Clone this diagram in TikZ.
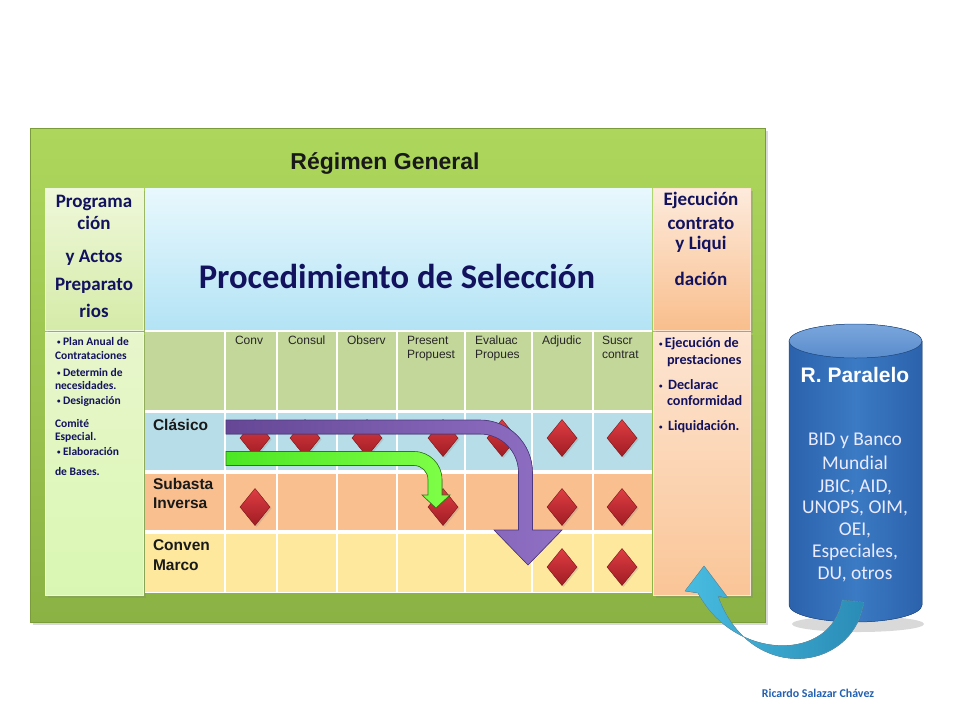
\documentclass[tikz,border=0pt]{standalone}
\usepackage{fontspec}
\usetikzlibrary{shapes.geometric,shadows}
\newfontfamily\arialf{Liberation Sans}
\newfontfamily\calib{Carlito}
\definecolor{grnT}{HTML}{ADD75C}
\definecolor{grnBot}{HTML}{8AB244}
\definecolor{grnD}{HTML}{7A9D3A}
\definecolor{lgT}{HTML}{EFF8DA}
\definecolor{lgB}{HTML}{D5EBA8}
\definecolor{lbT}{HTML}{E8F6CC}
\definecolor{lbB}{HTML}{D9F7B2}
\definecolor{blT}{HTML}{E8F8FD}
\definecolor{blB}{HTML}{B3E3F5}
\definecolor{pcT}{HTML}{FDEBDD}
\definecolor{pcB}{HTML}{F9BE8C}
\definecolor{pbT}{HTML}{FDE5D2}
\definecolor{pbB}{HTML}{FAC597}
\definecolor{hdrC}{HTML}{C4D79B}
\definecolor{clasC}{HTML}{B7DEE8}
\definecolor{subC}{HTML}{F9BF8F}
\definecolor{convC}{HTML}{FDE89E}
\definecolor{navy}{HTML}{12125E}
\definecolor{dT}{HTML}{DE3D43}
\definecolor{dB}{HTML}{A01C23}
\definecolor{dD}{HTML}{7A1418}
\definecolor{pL}{HTML}{654796}
\definecolor{pR}{HTML}{9070C4}
\definecolor{pD}{HTML}{4E3880}
\definecolor{gL}{HTML}{4CE624}
\definecolor{gR}{HTML}{80FF48}
\definecolor{gD}{HTML}{2D7A19}
\definecolor{cL}{HTML}{48BCE0}
\definecolor{cR}{HTML}{2A8CB6}
\definecolor{cD}{HTML}{1F6F93}
\definecolor{cyB}{HTML}{2C62AC}
\definecolor{cyM}{HTML}{3B7AC4}
\definecolor{cyT}{HTML}{7AA6DC}
\definecolor{cyTB}{HTML}{5A8CCC}
\definecolor{cyD}{HTML}{24528F}
\definecolor{credit}{HTML}{2260B0}
\begin{document}
\begin{tikzpicture}[x=1pt,y=-1pt,
  every node/.style={inner sep=0pt, outer sep=0pt},
  panel/.style={anchor=north west, inner sep=0pt},
  shad/.style={drop shadow={opacity=0.3, shadow xshift=3pt, shadow yshift=-3pt}},
  headtxt/.style={anchor=mid, text=navy, font=\calib\bfseries\fontsize{19}{22}\selectfont},
  llist/.style={anchor=mid west, text=navy, font=\calib\bfseries\fontsize{11.5}{13}\selectfont},
  rlist/.style={anchor=mid west, text=navy, font=\calib\bfseries\fontsize{14.2}{16}\selectfont},
  colhd/.style={anchor=mid west, text=black!85, font=\arialf\fontsize{12}{14}\selectfont},
  rowlbl/.style={anchor=mid west, text=black!90, font=\arialf\bfseries\fontsize{15.5}{18}\selectfont},
  dia/.style={diamond, minimum width=30pt, minimum height=37pt, inner sep=0pt,
    top color=dT, bottom color=dB, draw=dD, line width=0.4pt,
    drop shadow={opacity=0.25, shadow xshift=1.5pt, shadow yshift=-1.5pt}},
  cyltxt/.style={anchor=mid, text=white!92!blue, font=\calib\fontsize{19.5}{22}\selectfont}
]
\newcommand{\bul}{{\scriptsize\raisebox{0.1ex}{•}}}
\useasboundingbox (0,0) rectangle (960,720);
\fill[white] (0,0) rectangle (960,720);

% outer green frame
\node[panel, shad, minimum width=735pt, minimum height=494pt, top color=grnT, bottom color=grnBot, draw=grnD, line width=0.6pt] (regimen) at (30,128) {};
\node[anchor=base, text=black!90, font=\arialf\bfseries\fontsize{23}{26}\selectfont] (title) at (385,169) {Régimen General};

% left column
\node[panel, shad, minimum width=98pt, minimum height=142pt, top color=lgT, bottom color=lgB, draw=white!60!lgB, line width=0.5pt] (prog) at (45,188) {};
\node[panel, shad, minimum width=98pt, minimum height=263pt, top color=lbT, bottom color=lbB, draw=white!60!lbB, line width=0.5pt] (progb) at (45,332) {};

% center header
\node[panel, minimum width=507pt, minimum height=142pt, top color=blT, bottom color=blB] (proc) at (145,188) {};
\node[anchor=base, text=navy, font=\calib\bfseries\fontsize{34.6}{38}\selectfont] (proctitle) at (397,288) {Procedimiento de Selección};

% right column
\node[panel, shad, minimum width=97pt, minimum height=142pt, top color=pcT, bottom color=pcB, draw=white!60!pcB, line width=0.5pt] (ejec) at (653,188) {};
\node[panel, shad, minimum width=97pt, minimum height=263pt, top color=pbT, bottom color=pbB, draw=white!60!pbB, line width=0.5pt] (ejecb) at (653,332) {};

% table
\fill[white] (145,330) rectangle (652,593);
\node[panel, minimum width=507pt, minimum height=78pt, fill=hdrC] (hdr) at (145,332) {};
\node[panel, minimum width=507pt, minimum height=57pt, fill=clasC] (rclas) at (145,413) {};
\node[panel, minimum width=507pt, minimum height=56pt, fill=subC] (rsub) at (145,474) {};
\node[panel, minimum width=507pt, minimum height=58pt, fill=convC] (rconv) at (145,534) {};
\foreach \cx in {225,277,337,397,465,532,593}
  \draw[white, line width=1.6pt] (\cx,332) -- (\cx,592);

% column headers
\node[colhd] (hconv) at (235,342) {Conv};
\node[colhd] (hconsul) at (288,342) {Consul};
\node[colhd] (hobs) at (347,342) {Observ};
\node[colhd] (hpres1) at (407,342) {Present};
\node[colhd] (hpres2) at (407,356) {Propuest};
\node[colhd] (heval1) at (475,342) {Evaluac};
\node[colhd] (heval2) at (475,356) {Propues};
\node[colhd] (hadj) at (542,342) {Adjudic};
\node[colhd] (hsus1) at (602,342) {Suscr};
\node[colhd] (hsus2) at (602,356) {contrat};

% row labels
\node[rowlbl] (lclas) at (153,428) {Clásico};
\node[rowlbl] (lsub1) at (153,487) {Subasta};
\node[rowlbl] (lsub2) at (153,506) {Inversa};
\node[rowlbl] (lconv1) at (153,548) {Conven};
\node[rowlbl] (lconv2) at (153,568) {Marco};

% left column texts
\node[headtxt] (p1) at (94,205) {Programa};
\node[headtxt] (p2) at (94,227) {ción};
\node[headtxt] (p3) at (94,260) {y Actos};
\node[headtxt] (p4) at (94,288) {Preparato};
\node[headtxt] (p5) at (94,315) {rios};
\node[llist] (l1) at (57,343) {\bul\ Plan Anual de};
\node[llist] (l2) at (55,357) {Contrataciones};
\node[llist] (l3) at (57,374) {\bul\ Determin de};
\node[llist] (l4) at (55,387) {necesidades.};
\node[llist] (l5) at (57,402) {\bul\ Designación};
\node[llist] (l6) at (55,425) {Comité};
\node[llist] (l7) at (55,438) {Especial.};
\node[llist] (l8) at (57,453) {\bul\ Elaboración};
\node[llist] (l9) at (55,473) {de Bases.};

% right column texts
\node[headtxt] (e1) at (701,203) {Ejecución};
\node[headtxt] (e2) at (701,227) {contrato};
\node[headtxt] (e3) at (701,247) {y Liqui};
\node[headtxt] (e4) at (701,283) {dación};
\node[rlist] (r1) at (659,345) {\bul\,Ejecución de};
\node[rlist] (r2) at (667,362) {prestaciones};
\node[rlist] (r3) at (659,387) {\bul\ \,Declarac};
\node[rlist] (r4) at (667,403) {conformidad};
\node[rlist] (r5) at (659,428) {\bul\ \,Liquidación.};

% diamonds
\node[dia] (c1) at (255,438) {};
\node[dia] (c2) at (305,438) {};
\node[dia] (c3) at (367,438) {};
\node[dia] (c4) at (443,438) {};
\node[dia] (c5) at (502,438) {};
\node[dia] (c6) at (562,438) {};
\node[dia] (c7) at (622,438) {};
\node[dia] (s1) at (255,507) {};
\node[dia] (s4) at (443,507) {};
\node[dia] (s6) at (562,507) {};
\node[dia] (s7) at (622,507) {};
\node[dia] (m6) at (562,567) {};
\node[dia] (m7) at (622,567) {};

% purple block arrow
\filldraw[left color=pL, right color=pR, draw=pD, line width=0.6pt]
  (226,420) -- (480,420) arc[start angle=-90, end angle=0, radius=52.5]
  -- (532.5,530) -- (562,530) -- (528,565) -- (494,530) -- (518.5,530)
  -- (518.5,472.5) arc[start angle=0, end angle=-90, radius=38.5]
  -- (226,434) -- cycle;

% green block arrow
\filldraw[left color=gL, right color=gR, draw=gD, line width=0.6pt]
  (226,451.5) -- (414,451.5) arc[start angle=-90, end angle=0, radius=28]
  -- (442,495) -- (450,495) -- (436,508) -- (422,495) -- (428,495)
  -- (428,479.5) arc[start angle=0, end angle=-90, radius=14]
  -- (226,465.5) -- cycle;

% cylinder
\fill[black, opacity=0.15] (858,624) ellipse [x radius=66, y radius=8];
\filldraw[left color=cyB, right color=cyB, middle color=cyM, draw=cyD, line width=0.5pt]
  (789,341) -- (789,605) arc[start angle=180, end angle=0, x radius=66.5, y radius=17]
  -- (922,341) -- cycle;
\filldraw[top color=cyT, bottom color=cyTB, draw=cyD, line width=0.5pt]
  (855.5,341) ellipse [x radius=66.5, y radius=17];
\node[anchor=mid, text=white, font=\arialf\bfseries\fontsize{21}{24}\selectfont] (rpar) at (855,380) {R. Paralelo};
\node[cyltxt] (b1) at (855,443) {BID y Banco};
\node[cyltxt] (b2) at (855,467) {Mundial};
\node[cyltxt] (b3) at (855,490) {JBIC, AID,};
\node[cyltxt] (b4) at (855,511) {UNOPS, OIM,};
\node[cyltxt] (b5) at (855,533) {OEI,};
\node[cyltxt] (b6) at (855,555) {Especiales,};
\node[cyltxt] (b7) at (855,577) {DU, otros};

% curved cyan arrow
\filldraw[left color=cL, right color=cR, draw=cD!70, line width=0.4pt]
  (842,600) -- (864,602) .. controls (852,675) and (748,682) .. (718,596)
  -- (728,598) -- (704,566) -- (685,591) -- (698,593)
  .. controls (735,662) and (832,662) .. (842,600) -- cycle;

% credit
\node[anchor=mid, text=credit, font=\calib\bfseries\fontsize{11.9}{14}\selectfont] (autor) at (818,695) {Ricardo Salazar Chávez};
\end{tikzpicture}
\end{document}
